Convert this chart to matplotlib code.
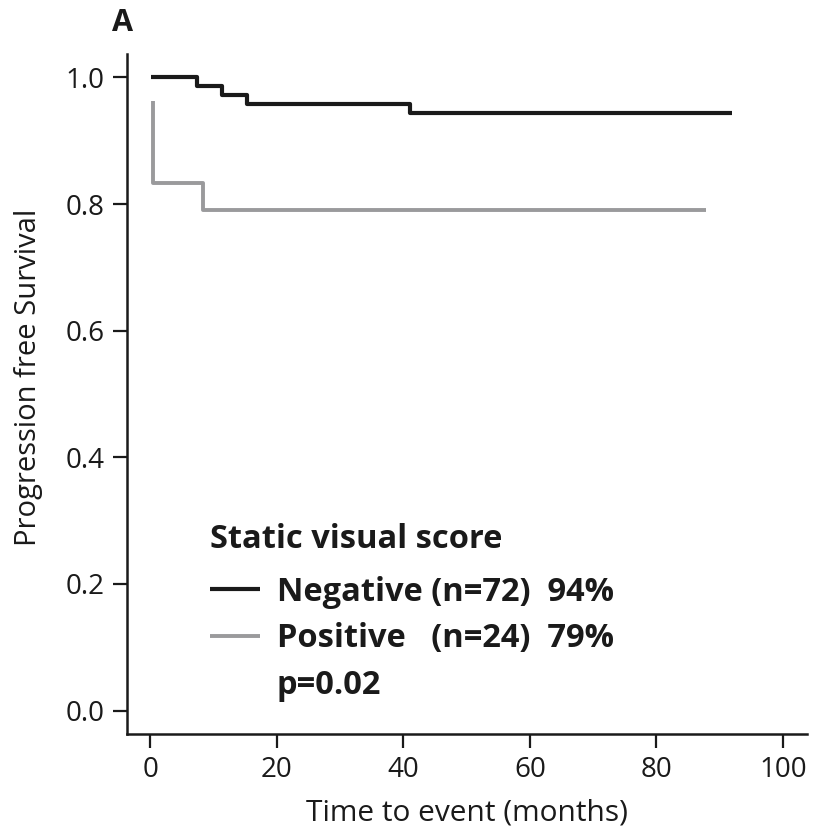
import matplotlib
matplotlib.use('Agg')
import matplotlib.pyplot as plt
from matplotlib.lines import Line2D

plt.rcParams['font.family'] = ['Open Sans', 'DejaVu Sans']

# Kaplan-Meier steps (months, survival)
neg_time = [0.2, 7.4, 11.3, 15.3, 41.1, 91.9]
neg_surv = [1.0, 0.986, 0.972, 0.958, 0.944, 0.944]
pos_time = [0.5, 0.5, 8.3, 87.8]
pos_surv = [0.962, 0.833, 0.791, 0.791]

labels = ['Negative (n=72)  94%', 'Positive   (n=24)  79%', 'p=0.02']
legend_title = 'Static visual score'
xticks = [0, 20, 40, 60, 80, 100]
yticks = [0.0, 0.2, 0.4, 0.6, 0.8, 1.0]

fig = plt.figure(figsize=(8.14, 8.36), dpi=100)
ax = fig.add_axes([0.1557, 0.122, 0.8357, 0.8134])

l1, = ax.plot(neg_time, neg_surv, drawstyle='steps-post', color='#1a1a1a', lw=3.0, solid_capstyle='butt')
l2, = ax.plot(pos_time, pos_surv, drawstyle='steps-post', color='#9a9a9c', lw=2.8, solid_capstyle='butt')

ax.set_xlim(-3.7, 103.8)
ax.set_ylim(-0.037, 1.037)
ax.set_xticks(xticks)
ax.set_yticks(yticks)
ax.set_xticklabels([str(t) for t in xticks])
ax.set_yticklabels(['%.1f' % t for t in yticks])

for s in ['top', 'right']:
    ax.spines[s].set_visible(False)
for s in ['left', 'bottom']:
    ax.spines[s].set_linewidth(1.8)
    ax.spines[s].set_color('#1a1a1a')
ax.tick_params(direction='out', length=10, width=1.6, labelsize=20, pad=6, colors='#1a1a1a')

ax.set_xlabel('Time to event (months)', fontsize=21.5, labelpad=10, color='#1a1a1a')
ax.set_ylabel('Progression free Survival', fontsize=21, color='#1a1a1a')
ax.yaxis.set_label_coords(-0.123, 0.524)

blank = Line2D([], [], color='none')
leg = ax.legend([l1, l2, blank], labels, title=legend_title, loc='lower left',
                bbox_to_anchor=(0.122, 0.047), frameon=False, alignment='left',
                borderpad=0, borderaxespad=0,
                prop={'weight': 'bold', 'size': 23.5}, handlelength=1.53, handletextpad=0.52,
                labelspacing=0.42)
leg.get_title().set_fontweight('bold')
leg.get_title().set_fontsize(23.5)
leg.get_title().set_color('#1a1a1a')
for t in leg.get_texts():
    t.set_color('#1a1a1a')
# a bit more room between the title and the entries
leg._legend_box.sep = 0.42 * 23.5 + 4

fig.text(0.138, 0.963, 'A', fontsize=22, fontweight='bold', color='#1a1a1a')

fig.savefig('out.png', dpi=100)
